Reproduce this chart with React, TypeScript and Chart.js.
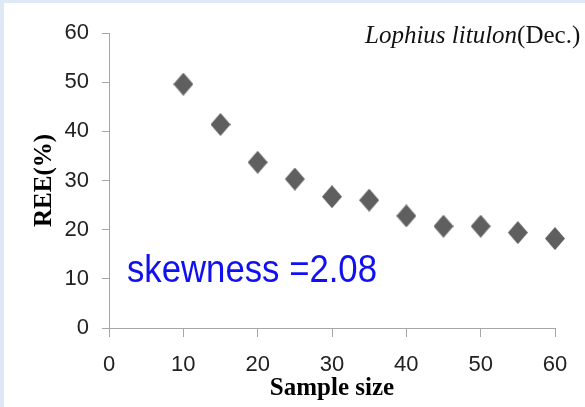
import React, { useEffect, useRef } from 'react';
import { Chart, registerables } from 'chart.js';

Chart.register(...registerables);

const sampleSizes = [10, 15, 20, 25, 30, 35, 40, 45, 50, 55, 60];
const reeValues = [49.6, 41.4, 33.7, 30.3, 26.7, 26.0, 22.8, 20.7, 20.7, 19.4, 18.2];
const xTicks = [0, 10, 20, 30, 40, 50, 60];
const yTicks = [0, 10, 20, 30, 40, 50, 60];
const titleItalic = 'Lophius litulon';
const titleRegular = '(Dec.)';
const annotationText = 'skewness =2.08';
const xTitle = 'Sample size';
const yTitle = 'REE(%)';

function makeDiamond(w: number, h: number, color: string) {
  const c = document.createElement('canvas');
  c.width = w;
  c.height = h;
  const ctx = c.getContext('2d')!;
  ctx.fillStyle = color;
  ctx.beginPath();
  ctx.moveTo(w / 2, 0);
  ctx.lineTo(w, h / 2);
  ctx.lineTo(w / 2, h);
  ctx.lineTo(0, h / 2);
  ctx.closePath();
  ctx.fill();
  return c;
}

const textPlugin = {
  id: 'texts',
  afterDraw(chart: any) {
    const ctx = chart.ctx;
    ctx.save();
    ctx.textBaseline = 'alphabetic';
    ctx.textAlign = 'left';
    ctx.fillStyle = '#111';
    ctx.font = 'italic 25px "Liberation Serif"';
    let x = 361;
    ctx.fillText(titleItalic, x, 40);
    x += ctx.measureText(titleItalic).width;
    ctx.font = '25px "Liberation Serif"';
    ctx.fillText(titleRegular, x, 40);
    ctx.font = '39px "Liberation Sans"';
    ctx.fillStyle = '#1010f0';
    ctx.fillText(annotationText, 123, 279, 250);
    ctx.restore();
  },
};

export default function App() {
  const ref = useRef<HTMLCanvasElement>(null);
  useEffect(() => {
    const diamond = makeDiamond(20, 23, '#5f5f5f');
    const axisColor = '#a6a6a6';
    const chart = new Chart(ref.current!, {
      type: 'scatter',
      data: {
        datasets: [
          {
            data: sampleSizes.map((s, i) => ({ x: s, y: reeValues[i] })),
            pointStyle: diamond as any,
            pointRadius: 10,
            backgroundColor: '#5f5f5f',
            borderColor: '#5f5f5f',
            clip: false as any,
          },
        ],
      },
      options: {
        animation: false,
        responsive: false,
        maintainAspectRatio: false,
        layout: { padding: { top: 30, right: 30, left: 0, bottom: 0 } },
        plugins: { legend: { display: false }, tooltip: { enabled: false } },
        scales: {
          x: {
            type: 'linear',
            min: 0,
            max: 60,
            afterFit(s: any) { s.height = 79; },
            afterBuildTicks(s: any) { s.ticks = xTicks.map((v) => ({ value: v })); },
            grid: { drawOnChartArea: false, tickLength: 9, color: axisColor },
            border: { color: axisColor },
            ticks: { font: { family: 'Liberation Sans', size: 22 }, color: '#222', padding: 15, maxRotation: 0 },
            title: {
              display: true,
              text: xTitle,
              color: '#000',
              font: { family: 'Liberation Serif', size: 25, weight: 'bold' },
              padding: { top: 0, bottom: 3 },
            },
          },
          y: {
            type: 'linear',
            min: 0,
            max: 60,
            afterFit(s: any) { s.width = 105; },
            afterBuildTicks(s: any) { s.ticks = yTicks.map((v) => ({ value: v })); },
            grid: { drawOnChartArea: false, tickLength: 7, color: axisColor },
            border: { color: axisColor },
            ticks: { font: { family: 'Liberation Sans', size: 22 }, color: '#222', padding: 13 },
            title: {
              display: true,
              text: yTitle,
              color: '#000',
              font: { family: 'Liberation Serif', size: 25, weight: 'bold' },
              padding: { top: 26, bottom: 0 },
            },
          },
        },
      },
      plugins: [textPlugin],
    });
    return () => chart.destroy();
  }, []);
  return (
    <div style={{ position: 'fixed', left: 0, top: 0, width: 585, height: 407, background: '#dfe9f5' }}>
      <div style={{ position: 'absolute', left: 4, top: 3, width: 581, height: 404, background: '#fff' }}>
        <canvas ref={ref} width={581} height={404} style={{ display: 'block' }} />
      </div>
    </div>
  );
}
